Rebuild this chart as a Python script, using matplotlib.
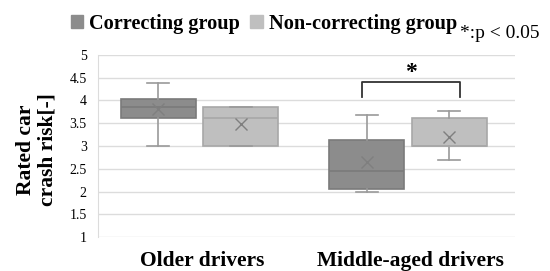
import matplotlib
matplotlib.use('Agg')
from matplotlib import pyplot as plt
import matplotlib.patches as mpatches

plt.rcParams['font.family'] = ['Liberation Serif', 'DejaVu Serif']

# data
groups = ['Older drivers', 'Middle-aged drivers']
series = ['Correcting group', 'Non-correcting group']
whislo = [[3.0, 2.0], [3.0, 2.69]]
q1 = [[3.61, 2.06], [3.0, 3.0]]
med = [[3.86, 2.46], [3.62, 3.0]]
q3 = [[4.03, 3.12], [3.85, 3.62]]
whishi = [[4.38, 3.68], [3.85, 3.77]]
means = [[3.82, 2.64], [3.48, 3.20]]

face = ['#8c8c8c', '#bfbfbf']
edge = ['#7a7a7a', '#a8a8a8']

fig = plt.figure(figsize=(5.5, 2.71), dpi=100)
ax = fig.add_axes([0.178, 0.125, 0.758, 0.673])

offsets = [-0.21, 0.186]
for s in range(2):
    stats = []
    for g in range(2):
        stats.append(dict(whislo=whislo[s][g], q1=q1[s][g], med=med[s][g],
                          q3=q3[s][g], whishi=whishi[s][g], mean=means[s][g], fliers=[]))
    pos = [g + 0.5 + offsets[s] for g in range(2)]
    ax.bxp(stats, positions=pos, widths=0.36, patch_artist=True, showmeans=True,
           showfliers=False,
           boxprops=dict(facecolor=face[s], edgecolor=edge[s], linewidth=1.2),
           medianprops=dict(color=edge[s], linewidth=1.2),
           whiskerprops=dict(color='#9a9a9a', linewidth=1.2),
           capprops=dict(color='#9a9a9a', linewidth=1.2),
           capwidths=0.105,
           meanprops=dict(marker='x', markeredgecolor='#7f7f7f', markersize=8, markeredgewidth=1))

# significance bracket
ax.plot([1.266, 1.266, 1.736, 1.736], [4.07, 4.41, 4.41, 4.07], color='#333333', lw=1.3)
ax.text(1.5, 4.6, '*', ha='center', va='center', fontsize=17, fontweight='bold')

ax.set_xlim(0, 2)
ax.set_ylim(1, 5)
ax.set_yticks([1, 1.5, 2, 2.5, 3, 3.5, 4, 4.5, 5])
ax.set_yticklabels(['1', '1.5', '2', '2.5', '3', '3.5', '4', '4.5', '5'], fontsize=10)
ax.set_xticks([0.5, 1.5])
ax.set_xticklabels(groups, fontsize=15.5, fontweight='bold')
ax.tick_params(length=0, pad=8)
ax.tick_params(axis='x', pad=10)
ax.grid(True, axis='y', color='#dcdcdc', lw=1)
ax.set_axisbelow(True)
for sp in ['top', 'right', 'bottom']:
    ax.spines[sp].set_visible(False)
ax.spines['left'].set_color('#dcdcdc')

ax.set_ylabel('Rated car\ncrash risk[-]', fontsize=15.5, fontweight='bold', linespacing=1.1)
ax.yaxis.set_label_coords(-0.098, 0.48)

handles = [mpatches.Patch(color=face[i], label=series[i]) for i in range(2)]
fig.legend(handles=handles, loc='upper left', bbox_to_anchor=(0.095, 1.016), ncol=2,
           frameon=False, handlelength=0.62, handleheight=0.62, handletextpad=0.3,
           columnspacing=0.5, prop=dict(size=14.6, weight='bold'))
fig.text(0.836, 0.86, '*:p < 0.05', fontsize=14, va='baseline')

plt.savefig('out.png', dpi=100)
